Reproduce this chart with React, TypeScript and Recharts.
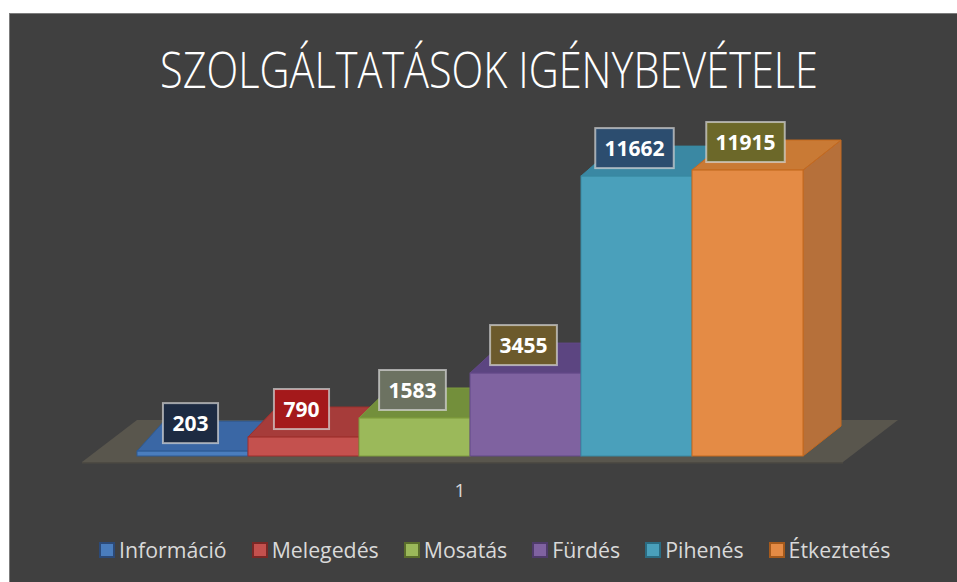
import React from 'react';
import { BarChart, Bar, XAxis, YAxis, Legend, LabelList } from 'recharts';

const categories: string[] = ['1'];
const seriesNames: string[] = ['Információ', 'Melegedés', 'Mosatás', 'Fürdés', 'Pihenés', 'Étkeztetés'];
const seriesValues: number[] = [203, 790, 1583, 3455, 11662, 11915];
const titleText = 'SZOLGÁLTATÁSOK IGÉNYBEVÉTELE';

const frontColors = ['#4a7dbd', '#c4514e', '#9bb95a', '#7f62a0', '#4aa0bb', '#e48b45'];
const topColors = ['#3a67a5', '#a63c3a', '#738f3b', '#5c4581', '#3a88a3', '#c97a35'];
const sideColors = ['#2f5589', '#933331', '#62792f', '#4d3a6c', '#317489', '#b6703a'];
const edgeColors = ['#2d5a94', '#9e2f2c', '#7d9a3c', '#634888', '#3889a3', '#c4691f'];
const labelFills = ['#1d2b42', '#a4191b', '#6c7261', '#6c5a2c', '#2c4d6f', '#6c6829'];
const legendBorders = ['#2c4a78', '#7a2826', '#5a6e2c', '#4f3b6b', '#2b6c82', '#a55a1c'];

const data = categories.map((c) => {
  const row: any = { name: c };
  seriesNames.forEach((n, i) => {
    row[n] = seriesValues[i];
  });
  return row;
});

const DEPTH_DY = -30;
const dxAt = (x: number) => 27 + ((x - 137) * 11) / 666;

const makeShape = (i: number) => (p: any) => {
  const { x, y, width, height } = p;
  if (x == null || width == null) return null;
  const x0 = x;
  const x1 = x + width;
  const yt = y;
  const yb = y + height;
  const d0 = dxAt(x0);
  const d1 = dxAt(x1);
  const dy = DEPTH_DY;
  let floor = null;
  if (i === 0) {
    const fx0 = x0 - 55;
    const fx1 = x0 + width * seriesValues.length + 40;
    const fy = yb + 6;
    floor = (
      <g>
        <polygon
          points={`${fx0},${fy} ${fx1},${fy} ${fx1 + 55},${fy - 42} ${fx0 + 55},${fy - 42}`}
          fill="#59564d"
        />
        <polygon
          points={`${fx0},${fy} ${fx1},${fy} ${fx1},${fy + 1.5} ${fx0},${fy + 1.5}`}
          fill="#4d4a43"
        />
      </g>
    );
  }
  return (
    <g>
      {floor}
      <polygon
        points={`${x1},${yb} ${x1 + d1},${yb + dy} ${x1 + d1},${yt + dy} ${x1},${yt}`}
        fill={sideColors[i]}
        stroke={edgeColors[i]}
        strokeWidth={1}
      />
      <polygon
        points={`${x0},${yt} ${x1},${yt} ${x1 + d1},${yt + dy} ${x0 + d0},${yt + dy}`}
        fill={topColors[i]}
        stroke={edgeColors[i]}
        strokeWidth={1}
      />
      <rect x={x0} y={yt} width={width} height={height} fill={frontColors[i]} stroke={edgeColors[i]} strokeWidth={1} />
    </g>
  );
};

const makeLabel = (i: number) => (p: any) => {
  const vb = p.viewBox || {};
  const x = p.x != null ? p.x : vb.x;
  const y = p.y != null ? p.y : vb.y;
  const width = p.width != null ? p.width : vb.width;
  if (x == null || y == null) return null;
  const txt = String(p.value);
  const w = txt.length * 11.7 + 20;
  const h = 40;
  const cx = x + width / 2 - 2;
  const bottom = y - 8;
  return (
    <g>
      <rect
        x={cx - w / 2}
        y={bottom - h}
        width={w}
        height={h}
        fill={labelFills[i]}
        stroke="rgba(215,215,215,0.7)"
        strokeWidth={2}
      />
      <text
        x={cx}
        y={bottom - h / 2}
        dy="0.36em"
        textAnchor="middle"
        fill="#ffffff"
        fontFamily="'Open Sans', sans-serif"
        fontWeight={700}
        fontSize={21}
      >
        {txt}
      </text>
    </g>
  );
};

const renderLegend = () => (
  <div
    style={{
      display: 'flex',
      flexDirection: 'row',
      justifyContent: 'flex-start',
      alignItems: 'center',
      height: 30,
      paddingLeft: 99,
      fontFamily: "'Open Sans', sans-serif",
      fontSize: 21.3,
      color: '#d9d9d9',
      whiteSpace: 'nowrap',
    }}
  >
    {seriesNames.map((n, i) => (
      <div key={n} style={{ display: 'flex', alignItems: 'center', marginRight: 25 }}>
        <span
          style={{
            display: 'inline-block',
            width: 12,
            height: 12,
            background: frontColors[i],
            border: `2px solid ${legendBorders[i]}`,
            marginRight: 4,
          }}
        />
        <span style={{ lineHeight: '30px' }}>{n}</span>
      </div>
    ))}
  </div>
);

export default function App() {
  return (
    <div style={{ position: 'absolute', left: 0, top: 0, width: 957, height: 582, background: '#ffffff', overflow: 'hidden' }}>
      <div
        style={{
          position: 'absolute',
          left: 9,
          top: 13,
          width: 948,
          height: 569,
          background: '#404040',
          borderTop: '1px solid #7c7c7c',
          borderLeft: '1px solid #7c7c7c',
          boxSizing: 'border-box',
        }}
      />
      <div style={{ position: 'absolute', left: 0, top: 0 }}>
        <BarChart
          width={957}
          height={582}
          data={data}
          margin={{ top: 120, right: 154, left: 137, bottom: 56 }}
          barCategoryGap={0}
          barGap={0}
        >
          <XAxis
            dataKey="name"
            axisLine={false}
            tickLine={false}
            height={40}
            tickMargin={22}
            tick={{ fill: '#d9d9d9', fontSize: 19, fontFamily: "'Open Sans', sans-serif", dx: -10 }}
          />
          <YAxis hide domain={[0, 14000]} />
          <Legend
            content={renderLegend}
            wrapperStyle={{ left: 0, top: 535, bottom: 'auto', width: 957, height: 30 }}
          />
          {seriesNames.map((n, i) => (
            <Bar key={n} dataKey={n} name={n} fill={frontColors[i]} shape={makeShape(i)} isAnimationActive={false}>
              <LabelList dataKey={n} content={makeLabel(i)} />
            </Bar>
          ))}
        </BarChart>
      </div>
      <svg style={{ position: 'absolute', left: 0, top: 0, pointerEvents: 'none' }} width={957} height={120}>
        <text
          x={489}
          y={88}
          textAnchor="middle"
          fill="#ffffff"
          fontFamily="'Open Sans', sans-serif"
          fontWeight={300}
          fontSize={49}
          textLength={658}
          lengthAdjust="spacingAndGlyphs"
        >
          {titleText}
        </text>
      </svg>
    </div>
  );
}
